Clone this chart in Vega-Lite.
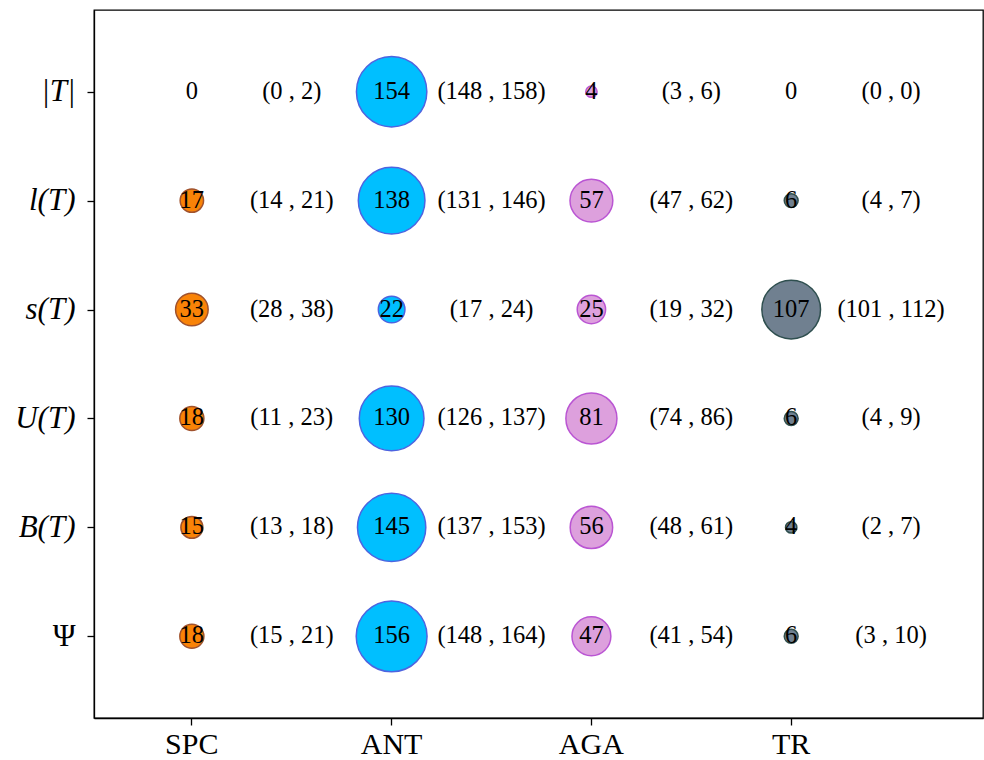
{
  "$schema": "https://vega.github.io/schema/vega-lite/v6.json",
  "autosize": {"type": "none"},
  "padding": {"left": 94, "top": 10, "right": 1, "bottom": 42},
  "width": 889,
  "height": 708,
  "background": "white",
  "config": {
    "view": {"stroke": "black", "strokeWidth": 1.3},
    "axis": {
      "grid": false,
      "domainColor": "black",
      "domainWidth": 1.3,
      "tickColor": "black",
      "tickWidth": 1.3,
      "tickSize": 7,
      "labelColor": "black",
      "labelFont": "Liberation Serif",
      "labelFontSize": 30,
      "title": null
    }
  },
  "data": {
    "values": [
      {"metric": "|T|", "method": "SPC", "value": 0, "ci": "(0 , 2)"},
      {"metric": "|T|", "method": "ANT", "value": 154, "ci": "(148 , 158)"},
      {"metric": "|T|", "method": "AGA", "value": 4, "ci": "(3 , 6)"},
      {"metric": "|T|", "method": "TR", "value": 0, "ci": "(0 , 0)"},
      {"metric": "l(T)", "method": "SPC", "value": 17, "ci": "(14 , 21)"},
      {"metric": "l(T)", "method": "ANT", "value": 138, "ci": "(131 , 146)"},
      {"metric": "l(T)", "method": "AGA", "value": 57, "ci": "(47 , 62)"},
      {"metric": "l(T)", "method": "TR", "value": 6, "ci": "(4 , 7)"},
      {"metric": "s(T)", "method": "SPC", "value": 33, "ci": "(28 , 38)"},
      {"metric": "s(T)", "method": "ANT", "value": 22, "ci": "(17 , 24)"},
      {"metric": "s(T)", "method": "AGA", "value": 25, "ci": "(19 , 32)"},
      {"metric": "s(T)", "method": "TR", "value": 107, "ci": "(101 , 112)"},
      {"metric": "U(T)", "method": "SPC", "value": 18, "ci": "(11 , 23)"},
      {"metric": "U(T)", "method": "ANT", "value": 130, "ci": "(126 , 137)"},
      {"metric": "U(T)", "method": "AGA", "value": 81, "ci": "(74 , 86)"},
      {"metric": "U(T)", "method": "TR", "value": 6, "ci": "(4 , 9)"},
      {"metric": "B(T)", "method": "SPC", "value": 15, "ci": "(13 , 18)"},
      {"metric": "B(T)", "method": "ANT", "value": 145, "ci": "(137 , 153)"},
      {"metric": "B(T)", "method": "AGA", "value": 56, "ci": "(48 , 61)"},
      {"metric": "B(T)", "method": "TR", "value": 4, "ci": "(2 , 7)"},
      {"metric": "Ψ", "method": "SPC", "value": 18, "ci": "(15 , 21)"},
      {"metric": "Ψ", "method": "ANT", "value": 156, "ci": "(148 , 164)"},
      {"metric": "Ψ", "method": "AGA", "value": 47, "ci": "(41 , 54)"},
      {"metric": "Ψ", "method": "TR", "value": 6, "ci": "(3 , 10)"}
    ]
  },
  "encoding": {
    "y": {
      "field": "metric",
      "type": "nominal",
      "scale": {"type": "point", "domain": ["|T|", "l(T)", "s(T)", "U(T)", "B(T)", "Ψ"], "padding": 0.75},
      "axis": {
        "labelPadding": 12,
        "labelFontSize": 31,
        "labelFontStyle": {"condition": {"test": "datum.value === 'Ψ'", "value": "normal"}, "value": "italic"}
      }
    }
  },
  "layer": [
    {
      "transform": [{"filter": "datum.value > 0"}],
      "mark": {"type": "circle", "opacity": 1, "strokeWidth": 1.5},
      "encoding": {
        "x": {
          "field": "method",
          "type": "nominal",
          "bandPosition": 0.25,
          "scale": {"type": "band", "domain": ["SPC", "ANT", "AGA", "TR"], "paddingInner": 0, "paddingOuter": 0.225, "align": 0.533},
          "axis": {"bandPosition": 0.25, "labelAngle": 0, "labelPadding": 4, "labelOffset": -50}
        },
        "size": {"field": "value", "type": "quantitative", "scale": {"type": "linear", "domain": [0, 160], "range": [0, 5150], "zero": true}, "legend": null},
        "fill": {"field": "method", "type": "nominal", "scale": {"domain": ["SPC", "ANT", "AGA", "TR"], "range": ["#f98307", "#00bfff", "#dda0dd", "#708090"]}, "legend": null},
        "stroke": {"field": "method", "type": "nominal", "scale": {"domain": ["SPC", "ANT", "AGA", "TR"], "range": ["#a0522d", "#4d64e0", "#ba55d3", "#2f4f4f"]}, "legend": null}
      }
    },
    {
      "mark": {"type": "text", "font": "Liberation Serif", "fontSize": 24.5, "color": "black", "baseline": "middle", "align": "center"},
      "encoding": {
        "x": {"field": "method", "type": "nominal", "bandPosition": 0.25},
        "text": {"field": "value", "type": "quantitative"}
      }
    },
    {
      "mark": {"type": "text", "font": "Liberation Serif", "fontSize": 24.5, "color": "black", "baseline": "middle", "align": "center"},
      "encoding": {
        "x": {"field": "method", "type": "nominal", "bandPosition": 0.75},
        "text": {"field": "ci", "type": "nominal"}
      }
    }
  ]
}
